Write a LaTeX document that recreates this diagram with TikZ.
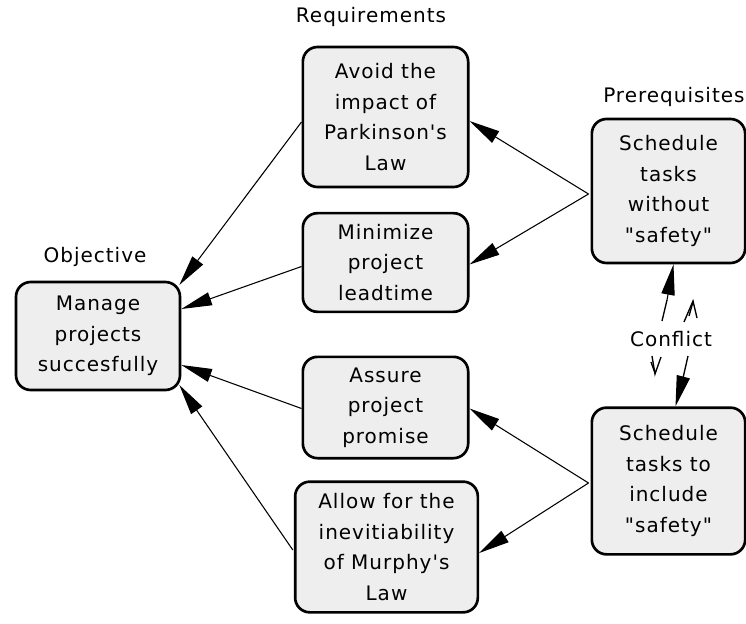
\documentclass[tikz,border=0pt]{standalone}
\usepackage{fontspec}
\setmainfont{DejaVu Sans}[LetterSpace=5, Ligatures=TeXOff]
\usetikzlibrary{arrows.meta,calc}
\definecolor{boxfill}{HTML}{EEEEEE}
\newcommand\dq{\symbol{34}}
\newcommand\sq{\symbol{39}}
\tikzset{
  cloudbox/.style={draw=black, line width=2pt, fill=boxfill, rounded corners=11pt,
    align=center, inner sep=0pt, font=\fontsize{15}{23}\selectfont},
  caption/.style={font=\fontsize{15}{18}\selectfont, inner sep=0pt},
  link/.style={line width=0.8pt, -{Triangle[length=23pt,width=10pt]}},
  zig/.style={line width=1pt}
}
\begin{document}
\begin{tikzpicture}[x=0.75pt,y=-0.75pt]
\useasboundingbox (0,0) rectangle (746,624);

% objective
\node[cloudbox, minimum width=123pt, minimum height=81pt] (obj) at (98,336)
  {Manage\\projects\\succesfully};

% requirements
\node[cloudbox, minimum width=124pt, minimum height=105pt] (reqA) at (385.5,117)
  {Avoid the\\impact of\\Parkinson\sq s\\Law};
\node[cloudbox, minimum width=124pt, minimum height=74pt] (reqB) at (385.5,262.5)
  {Minimize\\project\\leadtime};
\node[cloudbox, minimum width=124pt, minimum height=76pt] (reqC) at (385.5,407.5)
  {Assure\\project\\promise};
\node[cloudbox, minimum width=137pt, minimum height=98pt] (reqD) at (386.5,547)
  {Allow for the\\inevitiability\\of Murphy\sq s\\Law};

% prerequisites
\node[cloudbox, minimum width=115pt, minimum height=108pt] (preE) at (668.5,191)
  {Schedule\\tasks\\without\\\dq safety\dq};
\node[cloudbox, minimum width=115pt, minimum height=110pt] (preF) at (668.5,481)
  {Schedule\\tasks to\\include\\\dq safety\dq};

% column captions
\node[caption] (capReq) at (371,17) {Requirements};
\node[caption, anchor=west] (capPre) at (603,97) {Prerequisites};
\node[caption] (capObj) at (95,257) {Objective};
\node[caption] (conf) at (671,339) {Conflict};

% requirements -> objective
\draw[link] ($(reqA.west)+(0,5)$) -- ($(obj.east)+(-2,-51)$);
\draw[link] ($(reqB.west)+(0,4)$) -- ($(obj.east)+(0,-27)$);
\draw[link] ($(reqC.west)+(0,1)$) -- ($(obj.east)+(0,29)$);
\draw[link] ($(reqD.west)+(-1,3)$) -- ($(obj.east)+(-2,49)$);

% prerequisites -> requirements
\draw[link] ($(preE.west)+(-2,3)$) -- ($(reqA.east)+(0,4)$);
\draw[link] ($(preE.west)+(-2,3)$) -- ($(reqB.east)+(0,2)$);
\draw[link] ($(preF.west)+(-2,2)$) -- ($(reqC.east)+(0,1)$);
\draw[link] ($(preF.west)+(-2,2)$) -- ($(reqD.east)+(0,6)$);

% conflict lightning
\coordinate (upTail) at (662,321);
\coordinate (upKink) at (667,300);
\coordinate (dnTail) at (688,356);
\coordinate (dnKink) at (683,378);
\draw[zig] (upTail) -- (upKink);
\draw[link] (upKink) -- ($(preE.south)+(5,0)$);
\draw[zig] (dnTail) -- (dnKink);
\draw[link] (dnKink) -- ($(preF.north)+(7,0)$);
\draw[zig] (684,322) -- (693,301) -- (697,318);
\draw[zig] (693,302) -- (689,316);
\draw[zig] (652,356) -- (655,374) -- (661,357);
\draw[zig] (655,373) -- (651,362);
\end{tikzpicture}
\end{document}
